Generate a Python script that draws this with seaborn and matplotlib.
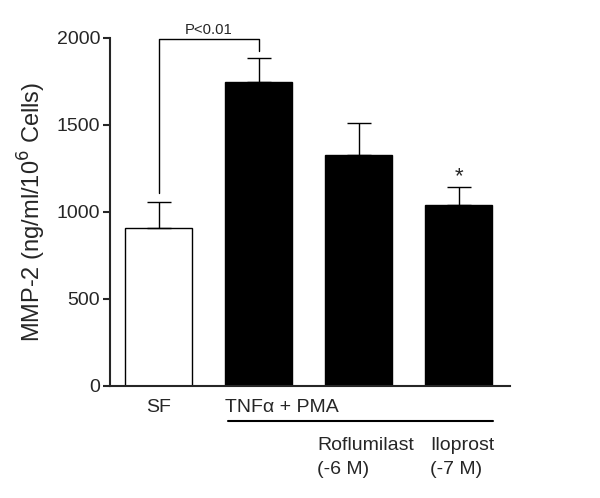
import numpy as np
import matplotlib
matplotlib.use('Agg')
import matplotlib.pyplot as plt
import seaborn as sns

# --- data ---
groups = ['SF', 'TNFa + PMA', 'Roflumilast', 'Iloprost']
means = [908, 1745, 1328, 1040]
errors = [150, 140, 185, 105]
bar_colors = ['white', 'black', 'black', 'black']

sns.set_style('ticks')
plt.rcParams['font.family'] = ['Liberation Sans', 'DejaVu Sans']

fig = plt.figure(figsize=(6, 4.98), dpi=100)
ax = fig.add_axes([0.1833, 0.2249, 0.6667, 0.6988])

sns.barplot(x=groups, y=means, hue=groups, palette=bar_colors, legend=False,
            edgecolor='black', linewidth=1.0, width=0.67, ax=ax)

# upper error bars only
ax.errorbar(np.arange(len(groups)), means,
            yerr=[np.zeros(len(groups)), errors],
            fmt='none', ecolor='black', elinewidth=1.0,
            capsize=8.6, capthick=1.0, zorder=1)

ax.set_xlim(-0.49, 3.51)
ax.set_ylim(0, 2000)
ax.set_yticks([0, 500, 1000, 1500, 2000])
ax.tick_params(axis='y', labelsize=14, width=1.5, length=5, pad=2)
ax.set_xticks([])
ax.set_ylabel('MMP-2 (ng/ml/10$^6$ Cells)', fontsize=17, labelpad=6)
for s in ['left', 'bottom']:
    ax.spines[s].set_linewidth(1.5)
sns.despine(ax=ax)

# significance bracket
ax.plot([0, 0, 1, 1], [1110, 1994, 1994, 1925], color='black', lw=1.0,
        clip_on=False)
ax.text(0.5, 2008, 'P<0.01', ha='center', va='bottom', fontsize=10.7)
ax.text(3, 1140, '*', ha='center', va='bottom', fontsize=16)

# group labels below the axis
ax.text(0, -125, 'SF', ha='center', va='center', fontsize=14)
ax.text(0.66, -125, 'TNF\u03b1 + PMA', ha='left', va='center', fontsize=14)
ax.plot([0.69, 3.34], [-202, -202], color='black', lw=1.5, clip_on=False)
ax.text(1.58, -410, 'Roflumilast\n(-6 M)', ha='left', va='center',
        fontsize=14, linespacing=1.5)
ax.text(2.71, -410, 'Iloprost\n(-7 M)', ha='left', va='center',
        fontsize=14, linespacing=1.5)

fig.savefig('out.png', dpi=100)
